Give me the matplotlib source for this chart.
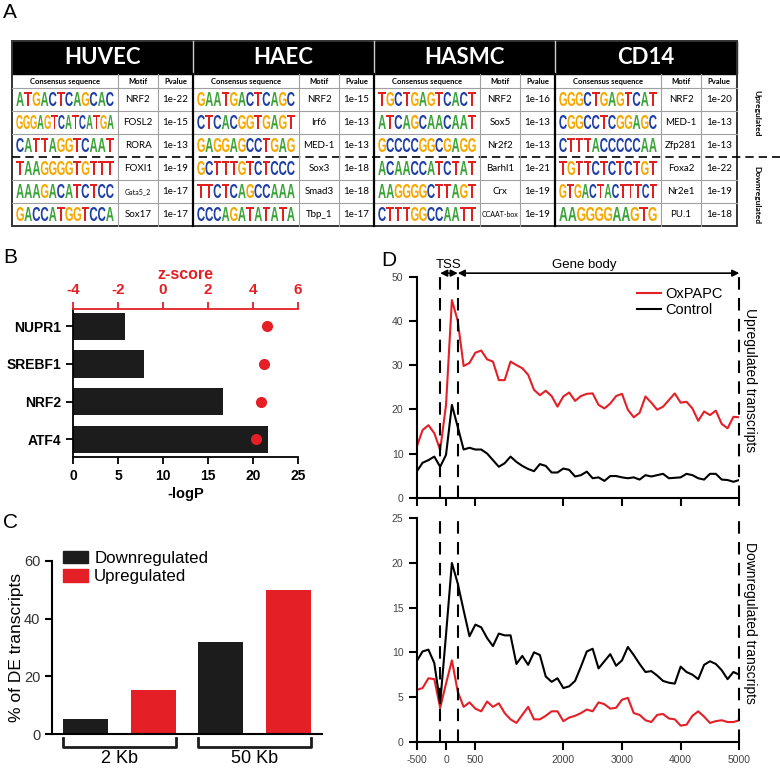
import numpy as np
import matplotlib
matplotlib.use('Agg')
import matplotlib.pyplot as plt
import matplotlib.transforms as mtransforms
from matplotlib.textpath import TextPath
from matplotlib.patches import PathPatch, Rectangle, Patch
from matplotlib.font_manager import FontProperties

plt.rcParams['font.family'] = ['Liberation Sans', 'DejaVu Sans']
plt.rcParams['axes.unicode_minus'] = False

W, H = 780, 768
RED = '#e41f26'
BLK = '#1c1c1c'

# ---------------- données panneau A (motifs)
cells = ['HUVEC', 'HAEC', 'HASMC', 'CD14']
seqs = [
    ['ATGACTCAGCAC', 'GGGAGTCATCATGA', 'CATTAGGTCAAT', 'TAAGGGGTGTTT', 'AAAGACATCTCC', 'GACCATGGTCCA'],
    ['GAATGACTCAGC', 'CTCACGGTGAGT', 'GAGGAGCCTGAG', 'GCTTTGTCTCCC', 'TTCTCAGCCAAA', 'CCCAGATATATA'],
    ['TGCTGAGTCACT', 'ATCAGCAACAAT', 'GCCCCGGCGAGG', 'ACAACCATCTAT', 'AAGGGGCTTAGT', 'CTTTGGCCAATT'],
    ['GGGCTGAGTCAT', 'CGGCCTCGGAGC', 'CTTTACCCCCAA', 'TGTTCTCTCTGT', 'GTGACTACTTTCT', 'AAGGGGAAGTG'],
]
motifs = [
    ['NRF2', 'FOSL2', 'RORA', 'FOXI1', 'Gata5_2', 'Sox17'],
    ['NRF2', 'Irf6', 'MED-1', 'Sox3', 'Smad3', 'Tbp_1'],
    ['NRF2', 'Sox5', 'Nr2f2', 'Barhl1', 'Crx', 'CCAAT-box'],
    ['NRF2', 'MED-1', 'Zfp281', 'Foxa2', 'Nr2e1', 'PU.1'],
]
pvals = [
    ['1e-22', '1e-15', '1e-13', '1e-19', '1e-17', '1e-17'],
    ['1e-15', '1e-13', '1e-13', '1e-18', '1e-18', '1e-17'],
    ['1e-16', '1e-13', '1e-13', '1e-21', '1e-19', '1e-19'],
    ['1e-20', '1e-13', '1e-13', '1e-22', '1e-19', '1e-18'],
]
LOGO_COL = {'A': '#3ca33a', 'C': '#1f3fa6', 'G': '#f5a800', 'T': '#e0201f'}

# ---------------- panneau B
tfs = ['NUPR1', 'SREBF1', 'NRF2', 'ATF4']
logp = [5.8, 7.9, 16.7, 21.7]
zscore = [4.6, 4.5, 4.35, 4.15]

# ---------------- panneau C
ranges = ['2 Kb', '50 Kb']
pct_down = [5.1, 32.0]
pct_up = [15.2, 49.9]

# ---------------- panneau D
pos = np.arange(-500, 5001, 100)
up_oxpapc = [11.5, 15.3, 16.4, 14.6, 10.8, 21, 44.7, 40, 29.8, 30.5,
             32.8, 33.3, 31.3, 30.8, 26.6, 26.6, 30.8, 30, 29.3, 27.8,
             24.4, 23.2, 24.2, 23, 20.6, 22.9, 23.8, 21.9, 23, 23.5,
             23.6, 21, 20.2, 21.3, 23, 23.5, 19.9, 18.2, 19.2, 22.9,
             21.5, 19.9, 20.6, 22.1, 23.6, 21.5, 21.7, 20.2, 17.4, 19.5,
             18.7, 19.7, 16.7, 15.7, 18.3, 18.2]
up_control = [5.9, 7.9, 8.5, 9.3, 7, 9.7, 21, 16, 10.9, 11.3,
              10.9, 10.9, 10, 8.5, 7, 7.8, 9.3, 8.1, 7.2, 6.5,
              6, 7.6, 7.2, 5.7, 5.7, 6.6, 6.3, 4.8, 5.1, 5.9,
              4.4, 4.6, 3.8, 4.9, 4.9, 4.6, 4.4, 4.6, 4.1, 5.1,
              4.8, 5.1, 5.4, 4.4, 4.5, 4.6, 5.4, 5.1, 4.4, 4.1,
              5.4, 5.4, 4.1, 4, 3.6, 4]
down_oxpapc = [5.8, 6, 7.1, 7, 3.8, 6.5, 9.1, 5.6, 3.9, 4.4,
               3.7, 3.4, 4.5, 3.9, 4.3, 3.2, 2.5, 2.1, 3, 3.9,
               2.5, 2.5, 2.9, 3.4, 3.4, 2.3, 2.7, 2.9, 3.2, 3.6,
               3.4, 4.4, 4.2, 3.7, 3.8, 4.7, 4.9, 3.2, 3, 2.4,
               2.2, 3, 3.1, 2.6, 2.5, 1.8, 1.9, 2.9, 3.4, 2.8,
               2.1, 2.3, 2.4, 2.2, 2.2, 2.4]
down_control = [9, 10.1, 10.3, 8.8, 4.3, 12, 20, 17.7, 14.7, 11.8,
                13.1, 12.8, 11.6, 10.7, 12.1, 11.9, 11.9, 8.7, 9.6, 8.6,
                10, 9.7, 7.3, 6.7, 7.1, 6, 6.2, 6.8, 8.4, 10.1,
                10.4, 8.2, 9, 9.8, 8.5, 9.1, 10.6, 9.7, 8.7, 7.8,
                7.9, 7.4, 6.8, 6.6, 6.5, 8.4, 7.8, 7.5, 7, 8.6,
                9, 8.7, 8, 7, 7.8, 7.5]
xticks_d = [-500, 0, 500, 2000, 3000, 4000, 5000]

fig = plt.figure(figsize=(W / 100, H / 100), dpi=100)

# ================= A : tableau, dessiné en pixels
axA = fig.add_axes([0, 0, 1, 1])
axA.set_xlim(0, W)
axA.set_ylim(H, 0)
axA.axis('off')

logo_fp = FontProperties(family='Liberation Sans', weight='bold')


def lettre(ax, ch, x, ybas, w, h):
    tp = TextPath((0, 0), ch, size=1, prop=logo_fp)
    bb = tp.get_extents()
    tr = (mtransforms.Affine2D().translate(-bb.x0, -bb.y0)
          .scale(w / bb.width, -h / bb.height).translate(x, ybas))
    ax.add_patch(PathPatch(tr.transform_path(tp), color=LOGO_COL[ch], lw=0))


gx = [12, 193, 374, 555, 737]
rows_y = [88 + 23 * i for i in range(7)]
seq_w, mot_w = 106, 40
tfont = 'Lato'

axA.add_patch(Rectangle((12, 41), 725, 33, color='black'))
for y in [88, 111, 134, 180, 203]:
    axA.plot([12, 737], [y, y], color='#a0a0a0', lw=0.8)
axA.plot([12, 780], [157, 157], color='black', lw=1.2, dashes=(5, 3))
for g in range(4):
    x0, x1 = gx[g], gx[g + 1]
    xs = x0 + seq_w
    xm = xs + mot_w
    axA.text((x0 + x1) / 2, 58, cells[g], color='white', fontsize=16,
             fontweight='bold', family=tfont, ha='center', va='center')
    for xc, lab in [((x0 + xs) / 2, 'Consensus sequence'), ((xs + xm) / 2, 'Motif'),
                    ((xm + x1) / 2, 'Pvalue')]:
        axA.text(xc, 81.5, lab, fontsize=5.5, fontweight='bold', family=tfont,
                 ha='center', va='center')
    for xv in [xs, xm]:
        axA.plot([xv, xv], [74, 226], color='#a0a0a0', lw=0.8)
    for r in range(6):
        yt, yb = rows_y[r], rows_y[r + 1]
        s = seqs[g][r]
        lw_ = (seq_w - 8) / len(s)
        for k, ch in enumerate(s):
            lettre(axA, ch, x0 + 4 + k * lw_ + 0.3, yb - 5, lw_ - 0.6, 14)
        m = motifs[g][r]
        axA.text((xs + xm) / 2, (yt + yb) / 2, m, fontsize=5 if len(m) > 6 else 7,
                 family=tfont, ha='center', va='center')
        axA.text((xm + x1) / 2, (yt + yb) / 2, pvals[g][r], fontsize=7,
                 family=tfont, ha='center', va='center')
for xv in gx[1:4]:
    axA.plot([xv, xv], [41, 74], color='#cccccc', lw=1)
    axA.plot([xv, xv], [74, 226], color='black', lw=1.6)
axA.add_patch(Rectangle((12, 41), 725, 185, fill=False, ec='#333333', lw=1.4))
axA.text(757, 113, 'Upregulated', rotation=-90, fontsize=6, fontweight='bold',
         family=tfont, ha='center', va='center')
axA.text(757, 195, 'Downregulated', rotation=-90, fontsize=6, fontweight='bold',
         family=tfont, ha='center', va='center')

for lab, x, y in [('A', 10, 13), ('B', 10, 257), ('C', 10, 522), ('D', 389, 260)]:
    fig.text(x / W, 1 - y / H, lab, fontsize=15, ha='center', va='center')

# ================= B
axB = fig.add_axes([73 / W, 1 - 457 / H, 225 / W, 148 / H])
yp = np.arange(len(tfs))
axB.barh(yp, logp, height=0.72, color=BLK)
axB.set_xlim(0, 25)
axB.set_ylim(3.47, -0.46)
axB.set_yticks(yp, tfs)
axB.set_xticks([0, 5, 10, 15, 20, 25])
for lab in axB.get_xticklabels() + axB.get_yticklabels():
    lab.set_fontweight('bold')
    lab.set_fontsize(10)
axB.spines['right'].set_visible(False)
axB.spines['top'].set_visible(False)
for sp in ['left', 'bottom']:
    axB.spines[sp].set_linewidth(1.3)
axB.tick_params(width=1.3, length=5)
axB.set_xlabel('-logP', fontweight='bold', fontsize=10.5, labelpad=3)

axZ = axB.twiny()
axZ.set_xlim(-4, 6)
axZ.plot(zscore, yp, 'o', color=RED, ms=7)
axZ.set_xticks([-4, -2, 0, 2, 4, 6])
for sp in ['left', 'right', 'bottom']:
    axZ.spines[sp].set_visible(False)
axZ.spines['top'].set_color(RED)
axZ.spines['top'].set_linewidth(1.3)
axZ.tick_params(axis='x', colors=RED, width=1.3, length=5, labelsize=11)
for lab in axZ.get_xticklabels():
    lab.set_fontweight('bold')
axZ.set_xlabel('z-score', color=RED, fontweight='bold', fontsize=11.5, labelpad=3)

# ================= C
axC = fig.add_axes([52 / W, 1 - 734 / H, 270 / W, 173 / H])
xg = np.arange(len(ranges)) * 2
axC.bar(xg, pct_down, width=0.66, color=BLK, label='Downregulated')
axC.bar(xg + 1, pct_up, width=0.66, color=RED, label='Upregulated')
axC.set_xlim(-0.5, 3.5)
axC.set_ylim(0, 60)
axC.set_yticks([0, 20, 40, 60])
axC.set_xticks([])
axC.spines['right'].set_visible(False)
axC.spines['top'].set_visible(False)
for sp in ['left', 'bottom']:
    axC.spines[sp].set_linewidth(1.5)
axC.tick_params(axis='y', width=1.5, length=5, labelsize=10.5, labelcolor='#333333')
axC.set_ylabel('% of DE transcripts', fontsize=12.5)
axC.yaxis.set_label_coords(-0.105, 0.5)
trC = mtransforms.blended_transform_factory(axC.transData, axC.transAxes)
for i, lab in enumerate(ranges):
    a, b = xg[i] - 0.33, xg[i] + 1.33
    axC.plot([a, a, b, b], [-0.025, -0.075, -0.075, -0.025], color=BLK, lw=2,
             transform=trC, clip_on=False)
    axC.text(xg[i] + 0.5, -0.14, lab, fontsize=13, ha='center', va='center',
             transform=trC)
axC.legend(handles=[Patch(color=BLK, label='Downregulated'), Patch(color=RED, label='Upregulated')],
           loc='upper left', bbox_to_anchor=(0.04, 1.06), frameon=False, fontsize=12.2,
           handlelength=1.5, handleheight=0.75, handletextpad=0.35, labelspacing=0.2,
           borderpad=0, borderaxespad=0)

# ================= D
axDt = fig.add_axes([416.7 / W, 1 - 497.7 / H, 322.6 / W, 221 / H])
axDb = fig.add_axes([416.7 / W, 1 - 741.7 / H, 322.6 / W, 223.4 / H])
axDt.plot(pos, up_oxpapc, color=RED, lw=1.5, label='OxPAPC')
axDt.plot(pos, up_control, color='black', lw=1.5, label='Control')
axDb.plot(pos, down_oxpapc, color=RED, lw=1.5)
axDb.plot(pos, down_control, color='black', lw=1.5)
axDt.set_ylim(0, 50)
axDt.set_yticks(range(0, 51, 10))
axDb.set_ylim(0, 25)
axDb.set_yticks(range(0, 26, 5))
for ax, top in [(axDt, 50.8), (axDb, 24.7)]:
    ax.set_xlim(-500, 5000)
    ax.set_xticks(xticks_d)
    ax.spines['right'].set_visible(False)
    ax.spines['top'].set_visible(False)
    for sp in ['left', 'bottom']:
        ax.spines[sp].set_linewidth(1.5)
    ax.tick_params(width=1.5, length=6, labelsize=7.5, labelcolor='#444444')
    for xv in [-100, 200, 5000]:
        ax.plot([xv, xv], [0, top], color='black', lw=1.5, dashes=(6, 4), clip_on=False)
axDt.set_xticklabels([])

arr = dict(arrowstyle='<|-|>', color='black', lw=1.2, shrinkA=0, shrinkB=0, mutation_scale=10)
axDt.annotate('', xy=(200, 50.8), xytext=(-100, 50.8), arrowprops=arr, annotation_clip=False)
axDt.annotate('', xy=(5000, 50.8), xytext=(200, 50.8), arrowprops=arr, annotation_clip=False)
axDt.text(50, 52.6, 'TSS', fontsize=9.5, ha='center', va='center')
axDt.text(2350, 52.6, 'Gene body', fontsize=9.5, ha='center', va='center')
axDt.legend(loc='upper left', bbox_to_anchor=(0.683, 0.955), frameon=False, fontsize=10.5,
            handlelength=1.65, handletextpad=0.3, labelspacing=0.15, borderpad=0,
            borderaxespad=0)
axDt.text(1.033, 0.533, 'Upregulated transcripts', rotation=-90, fontsize=10,
          ha='center', va='center', transform=axDt.transAxes)
axDb.text(1.033, 0.531, 'Downregulated transcripts', rotation=-90, fontsize=10,
          ha='center', va='center', transform=axDb.transAxes)

fig.savefig('out.png', dpi=100)
